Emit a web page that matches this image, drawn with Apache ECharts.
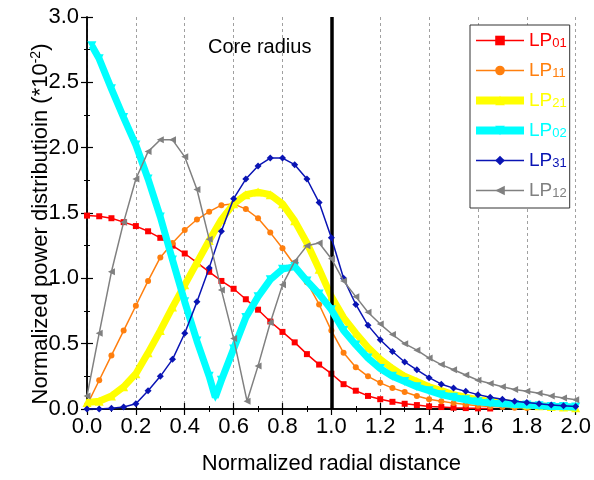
<!DOCTYPE html>
<html>
<head>
<meta charset="utf-8">
<script src="https://cdn.jsdelivr.net/npm/echarts@6/dist/echarts.min.js"></script>
<style>html,body{margin:0;padding:0;background:#fff;}#c{width:594px;height:480px;}</style>
</head>
<body>
<div id="c"></div>
<script>
// ---- data ----
const seriesNames = ['LP01', 'LP11', 'LP21', 'LP02', 'LP31', 'LP12'];
const xCommon = [0,0.05,0.1,0.15,0.2,0.25,0.3,0.35,0.4,0.45,0.5,0.55,0.6,0.65,0.7,0.75,0.8,0.85,0.9,0.95,1.0,
  1.05,1.1,1.15,1.2,1.25,1.3,1.35,1.4,1.45,1.5,1.55,1.6,1.65,1.7,1.75,1.8,1.85,1.9,1.95,2.0];
const lp01 = [1.48,1.475,1.46,1.43,1.40,1.36,1.31,1.25,1.19,1.12,1.05,0.98,0.92,0.84,0.76,0.67,0.59,0.51,0.42,0.34,0.27,
  0.19,0.14,0.10,0.075,0.055,0.04,0.03,0.02,0.015,0.01,0.007,0.005,0.004];
const lp11 = [0.03,0.22,0.41,0.60,0.79,0.98,1.16,1.27,1.37,1.45,1.51,1.56,1.57,1.53,1.46,1.35,1.23,1.10,0.97,0.80,0.60,
  0.43,0.32,0.25,0.20,0.16,0.13,0.10,0.075,0.06,0.045,0.035,0.025,0.02,0.015,0.01,0.007];
const lp21 = [0.05,0.06,0.10,0.17,0.27,0.43,0.60,0.78,0.95,1.12,1.29,1.45,1.57,1.64,1.66,1.64,1.57,1.44,1.27,1.07,0.86,
  0.70,0.58,0.47,0.38,0.31,0.25,0.21,0.17,0.14,0.11,0.09,0.07,0.06,0.05,0.04,0.03,0.025,0.02,0.015,0.01];
const xLp02 = [0.02,0.05,0.1,0.15,0.2,0.25,0.3,0.35,0.4,0.45,0.5,0.525,0.55,0.6,0.65,0.7,0.75,0.8,0.85,0.9,0.95,1.0,
  1.05,1.1,1.15,1.2,1.25,1.3,1.35,1.4,1.45,1.5,1.55,1.6,1.65,1.7,1.75,1.8,1.85,1.9,1.95,2.0];
const lp02 = [2.78,2.68,2.45,2.23,2.02,1.76,1.47,1.14,0.82,0.52,0.25,0.09,0.22,0.46,0.70,0.86,0.99,1.07,1.09,0.98,0.88,0.76,
  0.60,0.49,0.39,0.31,0.25,0.21,0.17,0.14,0.11,0.09,0.07,0.055,0.045,0.04,0.035,0.03,0.025,0.02,0.02,0.015];
const lp31 = [0,0,0.005,0.015,0.04,0.14,0.25,0.38,0.58,0.82,1.08,1.36,1.61,1.76,1.86,1.92,1.92,1.87,1.76,1.58,1.31,
  1.00,0.80,0.64,0.53,0.44,0.36,0.30,0.24,0.19,0.16,0.135,0.11,0.09,0.075,0.06,0.05,0.04,0.03,0.025,0.02];
const xLp12 = [0,0.05,0.1,0.15,0.2,0.25,0.3,0.35,0.4,0.45,0.5,0.55,0.6,0.655,0.7,0.75,0.8,0.85,0.9,0.95,1.0,
  1.05,1.1,1.15,1.2,1.25,1.3,1.35,1.4,1.45,1.5,1.55,1.6,1.65,1.7,1.75,1.8,1.85,1.9,1.95,2.0];
const lp12 = [0.10,0.58,1.05,1.43,1.76,1.97,2.06,2.06,1.93,1.68,1.30,0.91,0.54,0.06,0.33,0.66,0.95,1.13,1.25,1.27,1.15,
  0.98,0.86,0.74,0.65,0.57,0.50,0.45,0.39,0.34,0.30,0.26,0.22,0.195,0.17,0.15,0.135,0.12,0.10,0.085,0.07];
const coreRadius = 1.0;
const xTicks = {min: 0, max: 2, interval: 0.2};
const yTicks = {min: 0, max: 3, interval: 0.5};

// ---- styling ----
const FONT = 'Liberation Sans, Arial, sans-serif';
const colors = ['#ff0000', '#ff7f0e', '#ffff00', '#00ffff', '#0a14b4', '#808080'];
const widths = [1.5, 1.5, 7, 7, 1.5, 1.5];
const symbols = ['rect', 'circle', 'triangle', 'triangle', 'diamond', 'triangle'];
const symRot = [0, 0, 0, 180, 0, 90];
const symSize = [6, 6, 9, 9, 7, 7];

function pairs(xs, ys) { return ys.map((y, i) => [xs[i], y]); }
const seriesData = [
  pairs(xCommon, lp01), pairs(xCommon, lp11), pairs(xCommon, lp21),
  pairs(xLp02, lp02), pairs(xCommon, lp31), pairs(xLp12, lp12)
];

const series = seriesNames.map((n, i) => ({
  name: n, type: 'line', data: seriesData[i],
  xAxisIndex: 0, yAxisIndex: 0,
  symbol: symbols[i], symbolRotate: symRot[i], symbolSize: symSize[i],
  showSymbol: true,
  lineStyle: {color: colors[i], width: widths[i]},
  itemStyle: {color: colors[i]},
  z: 2 + i
}));
series.push({
  name: 'core', type: 'line', data: [], z: 20,
  markLine: {silent: true, symbol: 'none', label: {show: false},
    lineStyle: {color: '#000', width: 3.5, type: 'solid'},
    data: [{xAxis: coreRadius}]}
});

const axisCommon = {
  axisLine: {show: true, lineStyle: {color: '#000', width: 1.5}},
  axisTick: {show: true, inside: true, length: 6, lineStyle: {color: '#000', width: 1.2}},
  minorTick: {show: true, splitNumber: 2, length: 3, lineStyle: {color: '#000', width: 1}},
};

const chart = echarts.init(document.getElementById('c'), null, {renderer: 'canvas'});
chart.setOption({
  animation: false,
  backgroundColor: '#fff',
  grid: {left: 87, right: 17, top: 17, bottom: 69, containLabel: false},
  xAxis: [
    Object.assign({
      type: 'value', position: 'bottom', min: xTicks.min, max: xTicks.max, interval: xTicks.interval,
      axisLabel: {fontSize: 22, color: '#000', fontFamily: FONT, margin: 7, formatter: v => v.toFixed(1)},
      splitLine: {show: true, lineStyle: {color: '#a0a0a0', type: [3, 3], width: 1}},
      name: 'Normalized radial distance', nameLocation: 'middle', nameGap: 44, nameMoveOverlap: false,
      nameTextStyle: {fontSize: 22, color: '#000', fontFamily: FONT}
    }, axisCommon),
    Object.assign({
      type: 'value', position: 'top', min: xTicks.min, max: xTicks.max, interval: xTicks.interval,
      axisLabel: {show: false}, splitLine: {show: false}
    }, axisCommon)
  ],
  yAxis: [
    Object.assign({
      type: 'value', position: 'left', min: yTicks.min, max: yTicks.max, interval: yTicks.interval,
      axisLabel: {fontSize: 22, color: '#000', fontFamily: FONT, margin: 8, formatter: v => v.toFixed(1)},
      splitLine: {show: false},
      name: 'Normalized power distributioin (*10{sup|-2})', nameLocation: 'middle', nameGap: 34, nameMoveOverlap: false,
      nameTextStyle: {fontSize: 22, color: '#000', fontFamily: FONT, lineHeight: 24, padding: [0, 22, 0, 0],
        rich: {sup: {fontSize: 14, fontFamily: FONT, color: '#000', verticalAlign: 'top', lineHeight: 13}}}
    }, axisCommon),
    Object.assign({
      type: 'value', position: 'right', min: yTicks.min, max: yTicks.max, interval: yTicks.interval,
      axisLabel: {show: false}, splitLine: {show: false}
    }, axisCommon)
  ],
  legend: {
    orient: 'vertical', left: 470, top: 25,
    padding: [0, 3, 8, 2], itemGap: 5, itemWidth: 48, itemHeight: 12,
    borderColor: '#333', borderWidth: 1, backgroundColor: '#fff',
    formatter: name => '{a|LP}{b|' + name.slice(2) + '}',
    textStyle: {fontFamily: FONT,
      rich: {a: {fontSize: 19, fontFamily: FONT, lineHeight: 19, verticalAlign: 'middle'},
             b: {fontSize: 13, fontFamily: FONT, verticalAlign: 'bottom', lineHeight: 13, padding: [12, 0, 0, 0]}}},
    data: seriesNames.map((n, i) => ({name: n, textStyle: {color: colors[i]},
      lineStyle: {width: widths[i] > 3 ? 8 : 1.5, color: colors[i]}}))
  },
  graphic: [{type: 'text', left: 208, top: 37, z: 50,
    style: {text: 'Core radius', fontSize: 20, fontFamily: FONT, fill: '#000'}}],
  series: series
});
</script>
</body>
</html>
